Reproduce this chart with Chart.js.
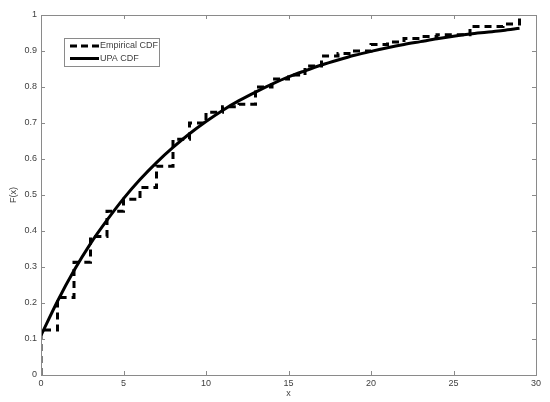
<!DOCTYPE html>
<html>
<head>
<meta charset="utf-8">
<script src="https://cdn.jsdelivr.net/npm/chart.js@4/dist/chart.umd.min.js"></script>
<style>
html,body{margin:0;padding:0;background:#fff;}
#wrap{width:550px;height:402px;position:relative;}
</style>
</head>
<body>
<div id="wrap"><canvas id="c" width="550" height="402"></canvas></div>
<script>
// Empirical CDF: value held on [k, k+1)
const empiricalX = [0, 0, 1, 2, 3, 4, 5, 6, 7, 8, 9, 10, 11, 12, 13, 14, 15, 16, 17, 18, 19, 20, 21, 22, 23, 24, 25, 26, 27, 28, 29];
const empiricalF = [0, 0.125, 0.215, 0.313, 0.385, 0.455, 0.488, 0.521, 0.58, 0.655, 0.70, 0.73, 0.745, 0.752, 0.80, 0.822, 0.833, 0.858, 0.886, 0.893, 0.90, 0.918, 0.925, 0.935, 0.94, 0.945, 0.945, 0.968, 0.968, 0.975, 1.0];
// UPA CDF (smooth curve)
const upaX = [0, 1, 2, 3, 4, 5, 6, 7, 8, 9, 10, 11, 12, 13, 14, 15, 16, 17, 18, 19, 20, 21, 22, 23, 24, 25, 26, 27, 28, 29];
const upaF = [0.11, 0.205, 0.29, 0.365, 0.43, 0.49, 0.543, 0.59, 0.632, 0.67, 0.704, 0.735, 0.762, 0.786, 0.808, 0.828, 0.845, 0.861, 0.875, 0.888, 0.899, 0.909, 0.918, 0.926, 0.934, 0.941, 0.947, 0.952, 0.957, 0.963];
const xTickLabels = ['0', '5', '10', '15', '20', '25', '30'];
const yTickLabels = ['0', '0.1', '0.2', '0.3', '0.4', '0.5', '0.6', '0.7', '0.8', '0.9', '1'];
const seriesNames = ['Empirical CDF', 'UPA CDF'];
const axisTitles = { x: 'x', y: 'F(x)' };

const FONT = 'Liberation Sans, Arial, Helvetica, sans-serif';
const AXIS_COLOR = '#8a8a8a';
const TEXT_COLOR = '#404040';

const boxPlugin = {
  id: 'boxPlugin',
  afterDraw(chart) {
    const ctx = chart.ctx;
    const a = chart.chartArea;
    const xs = chart.scales.x, ys = chart.scales.y;
    ctx.save();
    ctx.strokeStyle = AXIS_COLOR;
    ctx.lineWidth = 1;
    ctx.strokeRect(Math.round(a.left) + 0.5, Math.round(a.top) + 0.5, Math.round(a.right - a.left), Math.round(a.bottom - a.top));
    const tl = 4;
    ctx.beginPath();
    xTickLabels.forEach(l => {
      const px = Math.round(xs.getPixelForValue(parseFloat(l))) + 0.5;
      ctx.moveTo(px, a.bottom); ctx.lineTo(px, a.bottom - tl);
      ctx.moveTo(px, a.top); ctx.lineTo(px, a.top + tl);
    });
    yTickLabels.forEach(l => {
      const py = Math.round(ys.getPixelForValue(parseFloat(l))) + 0.5;
      ctx.moveTo(a.left, py); ctx.lineTo(a.left + tl, py);
      ctx.moveTo(a.right, py); ctx.lineTo(a.right - tl, py);
    });
    ctx.stroke();

    // legend
    const lx = 64, ly = 38, lw = 95, lh = 28;
    ctx.fillStyle = '#fff';
    ctx.fillRect(lx, ly, lw, lh);
    ctx.strokeStyle = AXIS_COLOR;
    ctx.strokeRect(lx + 0.5, ly + 0.5, lw, lh);
    ctx.strokeStyle = '#000';
    ctx.lineWidth = 3;
    ctx.lineCap = 'butt';
    const rows = [ly + 8, ly + 20.5];
    ctx.setLineDash([7, 4]);
    ctx.beginPath(); ctx.moveTo(70, rows[0]); ctx.lineTo(99, rows[0]); ctx.stroke();
    ctx.setLineDash([]);
    ctx.beginPath(); ctx.moveTo(70, rows[1]); ctx.lineTo(99, rows[1]); ctx.stroke();
    ctx.fillStyle = TEXT_COLOR;
    ctx.font = '9px ' + FONT;
    ctx.textBaseline = 'middle';
    ctx.textAlign = 'left';
    ctx.fillText(seriesNames[0], 100, rows[0]);
    ctx.fillText(seriesNames[1], 100, rows[1]);
    ctx.restore();
  }
};

new Chart(document.getElementById('c'), {
  type: 'line',
  data: {
    datasets: [
      {
        label: seriesNames[0],
        data: empiricalX.map((x, i) => ({ x: x, y: empiricalF[i] })),
        borderColor: '#000',
        borderWidth: 3,
        borderDash: [7, 5],
        borderCapStyle: 'butt',
        stepped: 'before',
        pointRadius: 0,
        fill: false
      },
      {
        label: seriesNames[1],
        data: upaX.map((x, i) => ({ x: x, y: upaF[i] })),
        borderColor: '#000',
        borderWidth: 3,
        cubicInterpolationMode: 'monotone',
        pointRadius: 0,
        fill: false
      }
    ]
  },
  options: {
    responsive: false,
    animation: false,
    devicePixelRatio: 1,
    layout: { padding: { left: 0, right: 14, top: 15, bottom: 0 } },
    plugins: {
      legend: { display: false },
      tooltip: { enabled: false }
    },
    scales: {
      x: {
        type: 'linear',
        min: 0, max: 30,
        afterBuildTicks(scale) { scale.ticks = xTickLabels.map(l => ({ value: parseFloat(l) })); },
        afterFit(scale) { scale.height = 27; },
        grid: { display: false, drawTicks: false },
        border: { display: false },
        ticks: {
          padding: 3,
          color: TEXT_COLOR,
          font: { family: FONT, size: 9 },
          maxRotation: 0,
          callback: (v) => xTickLabels[xTickLabels.indexOf(String(v))] ?? ''
        },
        title: {
          display: true, text: axisTitles.x, color: TEXT_COLOR,
          font: { family: FONT, size: 9 }, padding: { top: 0, bottom: 3 }
        }
      },
      y: {
        type: 'linear',
        min: 0, max: 1,
        afterBuildTicks(scale) { scale.ticks = yTickLabels.map(l => ({ value: parseFloat(l) })); },
        afterFit(scale) { scale.width = 41; },
        grid: { display: false, drawTicks: false },
        border: { display: false },
        ticks: {
          padding: 4,
          color: TEXT_COLOR,
          font: { family: FONT, size: 9 },
          callback: (v) => { const i = yTickLabels.findIndex(l => Math.abs(parseFloat(l) - v) < 1e-9); return i >= 0 ? yTickLabels[i] : ''; }
        },
        title: {
          display: true, text: axisTitles.y, color: TEXT_COLOR,
          font: { family: FONT, size: 9 }, padding: { top: 8, bottom: 0 }
        }
      }
    }
  },
  plugins: [boxPlugin]
});
</script>
</body>
</html>
